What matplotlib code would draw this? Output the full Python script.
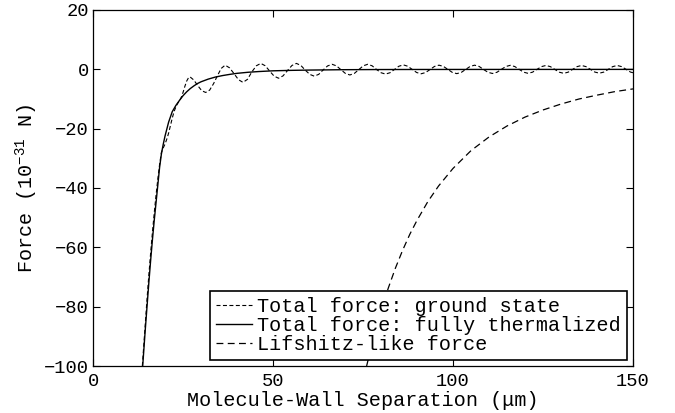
import matplotlib
matplotlib.use("Agg")
import matplotlib.pyplot as plt

plt.rcParams["font.family"] = ["Liberation Mono", "DejaVu Sans"]
plt.rcParams["mathtext.fontset"] = "custom"
plt.rcParams["mathtext.rm"] = "Liberation Mono"
plt.rcParams["mathtext.default"] = "rm"

# Total force, fully thermalized
thermal_x = [13.8, 14.5, 15.0, 15.5, 16.0, 16.5, 17.0, 17.5, 18.0, 18.5,
             19.0, 19.5, 20.0, 21.0, 22.0, 23.0, 24.0, 25.0, 26.0, 27.0,
             28.0, 29.0, 30.0, 32.0, 34.0, 36.0, 38.0, 40.0, 43.0, 46.0,
             50.0, 55.0, 60.0, 70.0, 80.0, 90.0, 100.0, 120.0, 150.0]
thermal_y = [-100, -88, -80, -72, -64.5, -57.5, -51, -45, -39, -33,
             -28.5, -25.3, -22.5, -17.8, -14.3, -12.2, -10.5, -8.9, -7.6, -6.5,
             -5.6, -4.8, -4.2, -3.3, -2.6, -2.1, -1.7, -1.35, -1.0, -0.75,
             -0.5, -0.35, -0.25, -0.12, -0.07, -0.05, -0.04, -0.03, -0.02]

# Total force, ground state (oscillating)
ground_x = [13.7, 14.5, 15.0, 15.5, 16.0, 16.5, 17.0, 17.5, 18.0, 18.5,
            19.0, 19.5, 20.0, 20.5, 21.0, 21.5, 22.0, 22.5, 23.0, 23.5,
            24.0, 24.5, 25.0, 25.5, 26.0, 26.5, 26.9, 28.0, 29.1, 30.2,
            31.3, 32.4, 33.5, 34.5, 35.6, 36.7, 37.94, 39.2, 40.4, 41.65,
            42.89, 44.13, 45.36, 46.6, 47.84, 49.08, 50.31, 51.55, 52.79, 54.03,
            55.26, 56.5, 57.74, 58.98, 60.21, 61.45, 62.69, 63.93, 65.16, 66.4,
            67.64, 68.88, 70.11, 71.35, 72.59, 73.83, 75.06, 76.3, 77.54, 78.78,
            80.01, 81.25, 82.49, 83.73, 84.96, 86.2, 87.44, 88.68, 89.91, 91.15,
            92.39, 93.63, 94.86, 96.1, 97.34, 98.58, 99.81, 101.05, 102.29, 103.53,
            104.76, 106.0, 107.24, 108.48, 109.71, 110.95, 112.19, 113.43, 114.66, 115.9,
            117.14, 118.38, 119.61, 120.85, 122.09, 123.33, 124.56, 125.8, 127.04, 128.28,
            129.51, 130.75, 131.99, 133.23, 134.46, 135.7, 136.94, 138.18, 139.41, 140.65,
            141.89, 143.13, 144.36, 145.6, 146.84, 148.08, 149.31, 150.0]
ground_y = [-100, -86, -77.5, -69.5, -62, -55, -48.5, -42.5, -37, -32,
            -28, -26.5, -25.2, -23.5, -21.5, -19, -16.5, -14.3, -12.7, -11.5,
            -10.6, -9.5, -7.8, -5.8, -4.0, -2.9, -2.5, -3.6, -5.5, -7.2,
            -7.8, -7.0, -4.8, -2.3, 0.3, 1.4, 0.49, -1.5, -3.48, -4.4,
            -3.39, -0.85, 1.19, 2.0, 1.2, -0.6, -2.3, -3.0, -2.2, -0.4,
            1.3, 2.0, 1.3, -0.3, -1.7, -2.3, -1.7, -0.2, 1.15, 1.7,
            1.16, -0.14, -1.38, -1.9, -1.38, -0.1, 1.18, 1.7, 1.18, -0.07,
            -1.15, -1.6, -1.15, -0.06, 1.04, 1.5, 1.04, -0.05, -1.08, -1.5,
            -1.08, -0.05, 0.98, 1.4, 0.98, -0.04, -1.04, -1.45, -1.04, -0.04,
            0.98, 1.4, 0.98, -0.04, -1.0, -1.4, -1.0, -0.03, 0.95, 1.35,
            0.95, -0.03, -0.96, -1.35, -0.96, -0.03, 0.91, 1.3, 0.91, -0.03,
            -0.96, -1.35, -0.96, -0.02, 0.91, 1.3, 0.91, -0.02, -0.93, -1.3,
            -0.93, -0.02, 0.91, 1.3, 0.91, -0.02, -0.93, -1.15]

# Lifshitz-like force
lifshitz_x = [76, 78, 80, 82, 84, 86, 88, 90, 93, 96, 100, 105, 110, 115,
              120, 125, 130, 135, 140, 145, 150]
lifshitz_y = [-100, -90.1, -81.5, -73.8, -67.0, -61.0, -55.6, -50.9, -44.6,
              -39.3, -33.4, -27.4, -22.8, -19.1, -16.1, -13.7, -11.7, -10.0,
              -8.7, -7.5, -6.6]

x_ticks = [0, 50, 100, 150]
y_ticks = [-100, -80, -60, -40, -20, 0, 20]

fig = plt.figure(figsize=(6.75, 4.13), dpi=100)
ax = fig.add_axes([0.1378, 0.1138, 0.8, 0.862])

ax.plot(ground_x, ground_y, color="black", linewidth=0.8,
        dashes=(3.6, 2.2), label="Total force: ground state")
ax.plot(thermal_x, thermal_y, color="black", linewidth=1.0,
        label="Total force: fully thermalized")
ax.plot(lifshitz_x, lifshitz_y, color="black", linewidth=0.9,
        dashes=(5.5, 3.5), label="Lifshitz-like force")

ax.set_xlim(0, 150)
ax.set_ylim(-100, 20)
ax.set_xticks(x_ticks)
ax.set_yticks(y_ticks)
ax.tick_params(axis="both", direction="in", top=True, right=True, length=5,
               width=0.8, labelsize=13.5)
ax.tick_params(axis="x", pad=5)
ax.tick_params(axis="y", pad=3)
for s in ax.spines.values():
    s.set_linewidth(0.9)

ax.set_xlabel("Molecule-Wall Separation (\u03bcm)", fontsize=14.5, labelpad=0.5)
ax.set_ylabel("Force (10$^{-31}$ N)", fontsize=14.5, labelpad=3)

leg = ax.legend(loc="lower right", bbox_to_anchor=(0.9894, 0.0169),
                borderaxespad=0, fontsize=14.5, fancybox=False,
                edgecolor="black", framealpha=1, handlelength=1.8,
                handletextpad=0.25, borderpad=0.3, labelspacing=0.0)
leg.get_frame().set_linewidth(1.2)

fig.savefig("out.png", dpi=100)
